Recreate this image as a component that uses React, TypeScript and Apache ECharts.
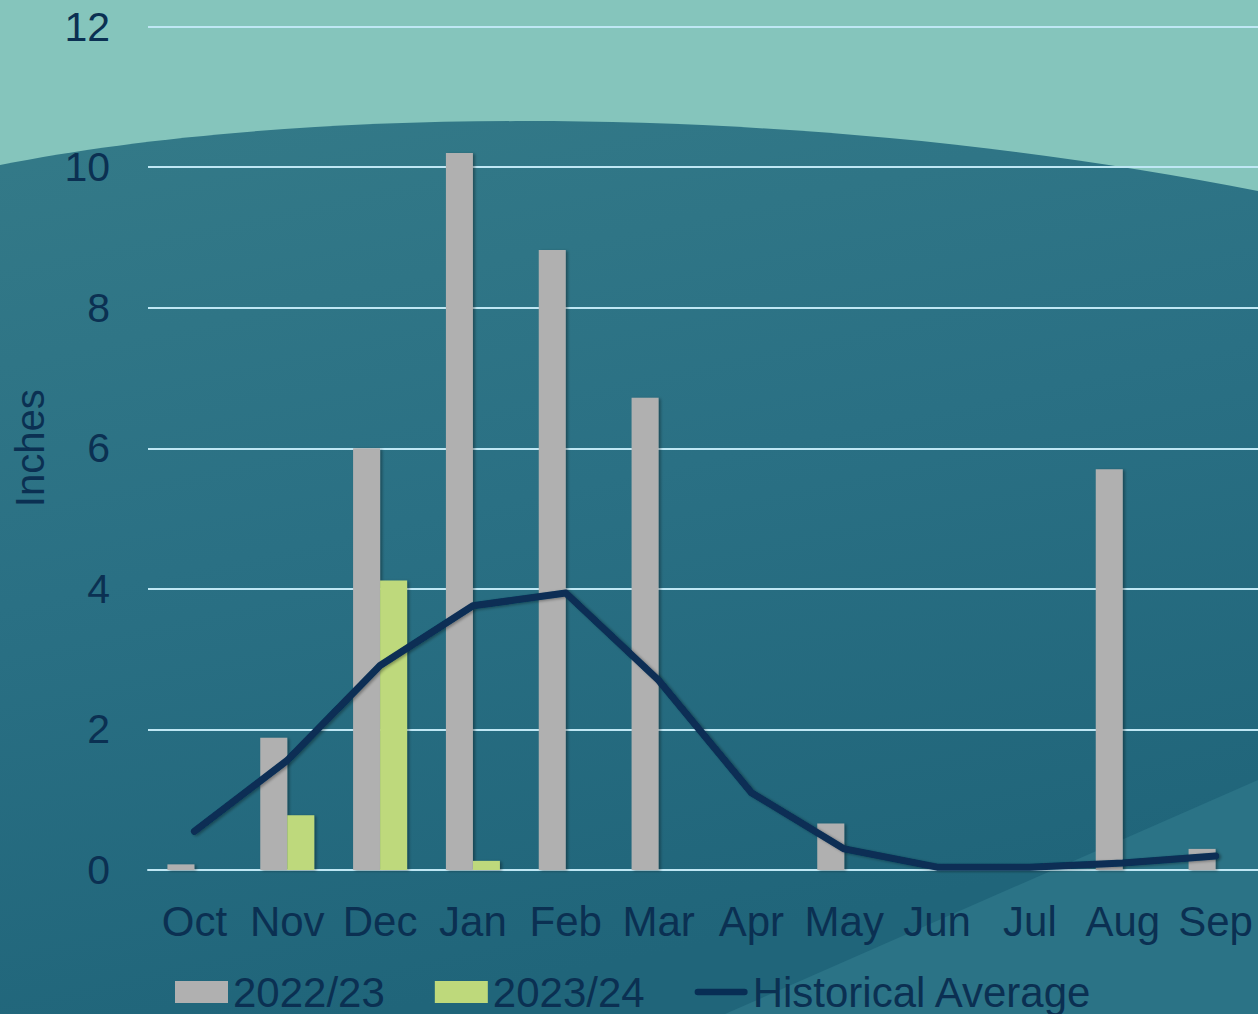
import React, { useEffect, useRef } from "react";
import * as echarts from "echarts";

const months = ["Oct", "Nov", "Dec", "Jan", "Feb", "Mar", "Apr", "May", "Jun", "Jul", "Aug", "Sep"];
const season2022 = [0.08, 1.88, 6.0, 10.2, 8.82, 6.72, 0, 0.66, 0, 0, 5.7, 0.3];
const season2023 = [0, 0.78, 4.12, 0.13, null, null, null, null, null, null, null, null];
const historicalAvg = [0.55, 1.56, 2.91, 3.76, 3.94, 2.7, 1.1, 0.3, 0.04, 0.04, 0.1, 0.2];
const yTicks = [0, 2, 4, 6, 8, 10, 12];

const TEXT = "#0B3052";
const FONT = "'Liberation Sans', Arial, sans-serif";

echarts.graphic.registerShape(
  "darkBg",
  echarts.graphic.extendPath("M0,165 C300,105 800,100 1258,191 L1258,1014 L0,1014 Z", {})
);
echarts.graphic.registerShape(
  "lightTri",
  echarts.graphic.extendPath("M1258,780 L1258,1014 L725,1014 Z", {})
);

const lineIcon =
  "path://M0,0 M3.5,7.5 L53.5,7.5 A3.5,3.5 0 0 1 53.5,14.5 L3.5,14.5 A3.5,3.5 0 0 1 3.5,7.5 Z M57,22";

export default function App() {
  const ref = useRef<HTMLDivElement>(null);
  useEffect(() => {
    document.body.style.margin = "0";
    const chart = echarts.init(ref.current!, null, { renderer: "svg" });
    const shadow = {
      shadowColor: "rgba(0,0,0,0.35)",
      shadowBlur: 3,
      shadowOffsetX: 2,
      shadowOffsetY: 1,
    };
    chart.setOption({
      animation: false,
      backgroundColor: "#85C5BC",
      graphic: {
        elements: [
          {
            type: "darkBg",
            x: 0,
            y: 0,
            z: -100,
            silent: true,
            style: {
              fill: {
                type: "linear",
                x: 0,
                y: 0,
                x2: 0.3,
                y2: 1,
                colorStops: [
                  { offset: 0, color: "#347A88" },
                  { offset: 0.5, color: "#2A7084" },
                  { offset: 1, color: "#20657A" },
                ],
              },
            },
          },
          {
            type: "lightTri",
            x: 0,
            y: 0,
            z: -99,
            silent: true,
            style: { fill: "#2B7386" },
          },
        ],
      },
      grid: {
        left: 148,
        width: 1114,
        top: 26.5,
        height: 843.5,
        containLabel: false,
        outerBoundsMode: "none",
      },
      legend: {
        left: 175,
        top: 970,
        padding: 0,
        itemWidth: 53,
        itemHeight: 22,
        itemGap: 50,
        textStyle: { color: TEXT, fontSize: 42, fontFamily: FONT, lineHeight: 44 },
        data: [
          { name: "2022/23", icon: "rect" },
          { name: "2023/24", icon: "rect" },
          { name: "Historical Average", icon: lineIcon, itemStyle: { color: "#082E55" } },
        ],
      },
      xAxis: {
        type: "category",
        data: months,
        axisTick: { show: false },
        axisLine: { show: true, lineStyle: { color: "#BFE7F4", width: 2 } },
        axisLabel: { color: TEXT, fontSize: 42, fontFamily: FONT, margin: 30, interval: 0 },
      },
      yAxis: {
        type: "value",
        min: 0,
        max: 12,
        interval: 2,
        name: "Inches",
        nameLocation: "middle",
        nameRotate: 90,
        nameGap: 98,
        nameTextStyle: { color: TEXT, fontSize: 40, fontFamily: FONT },
        axisLine: { show: false },
        axisTick: { show: false },
        axisLabel: {
          color: TEXT,
          fontSize: 41,
          fontFamily: FONT,
          margin: 38,
          formatter: (v: number) => (yTicks.includes(v) ? String(v) : ""),
        },
        splitLine: { show: true, lineStyle: { color: "#BFE7F4", width: 2 } },
      },
      series: [
        {
          name: "2022/23",
          type: "bar",
          data: season2022,
          barWidth: 27,
          barGap: "0%",
          itemStyle: { color: "#B0B0B0", ...shadow },
        },
        {
          name: "2023/24",
          type: "bar",
          data: season2023,
          barWidth: 27,
          barGap: "0%",
          itemStyle: { color: "#BED97B", ...shadow },
        },
        {
          name: "Historical Average",
          type: "line",
          data: historicalAvg,
          symbol: "none",
          smooth: false,
          itemStyle: { color: "#082E55" },
          lineStyle: { color: "#082E55", width: 7, cap: "round", join: "round", ...shadow },
        },
      ],
    });
    return () => chart.dispose();
  }, []);
  return <div ref={ref} style={{ width: 1258, height: 1014 }} />;
}
